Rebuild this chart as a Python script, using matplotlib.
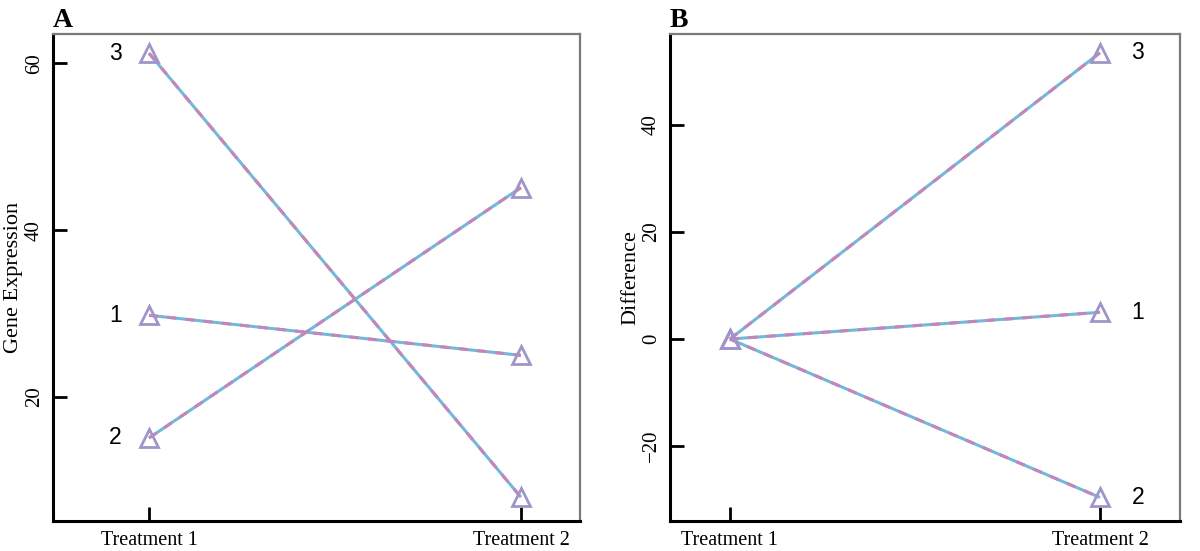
import matplotlib.pyplot as plt

# panel A: gene expression per treatment
treatments = ['Treatment 1', 'Treatment 2']
genes = ['1', '2', '3']
expr_t1 = [29.8, 15.1, 61.2]
expr_t2 = [25.0, 45.1, 8.0]

# panel B: difference from treatment 1
diff_t1 = [0, 0, 0]
diff_t2 = [5.0, -29.6, 53.5]

blue = '#72b8d8'
pink = '#c884b8'
tri = '#a095c8'
serif = ['Liberation Serif', 'DejaVu Serif']
sans = ['Liberation Sans', 'DejaVu Sans']

fig = plt.figure(figsize=(12, 5.51), dpi=100)
axA = fig.add_axes([0.0442, 0.0544, 0.4392, 0.8839])
axB = fig.add_axes([0.5583, 0.0544, 0.4250, 0.8839])


def draw_pair(ax, y1, y2):
    for a, b in zip(y1, y2):
        ax.plot([1, 2], [a, b], color=blue, lw=2.2, solid_capstyle='butt', zorder=2)
        ax.plot([1, 2], [a, b], color=pink, lw=2.2, dashes=(3, 3), zorder=3)
        ax.plot([1, 2], [a, b], ls='none', marker='^', ms=13, mfc='none',
                mec=tri, mew=2, zorder=4)


def style(ax, ylabel, title, labx):
    for s in ['left', 'bottom']:
        ax.spines[s].set_linewidth(2.2)
        ax.spines[s].set_color('black')
    for s in ['top', 'right']:
        ax.spines[s].set_linewidth(1.6)
        ax.spines[s].set_color('#7a7a7a')
    ax.set_xticks([1, 2])
    ax.set_xticklabels(treatments, fontfamily=serif, fontsize=14.5)
    ax.tick_params(direction='in', length=10, width=2)
    ax.tick_params(axis='x', pad=7)
    ax.tick_params(axis='y', labelrotation=90, pad=6.5)
    for lab in ax.get_yticklabels():
        lab.set_fontfamily(serif)
        lab.set_fontsize(15)
        lab.set_va('center')
    ax.set_ylabel(ylabel, fontfamily=serif, fontsize=16)
    ax.yaxis.set_label_coords(labx, 0.5)
    ax.text(0, 1.014, title, transform=ax.transAxes, fontfamily=serif,
            fontweight='bold', fontsize=20, ha='left', va='baseline')


draw_pair(axA, expr_t1, expr_t2)
for g, v in zip(genes, expr_t1):
    axA.text(0.91, v, g, fontfamily=sans, fontsize=16.5, ha='center', va='center')
axA.set_xlim(0.742, 2.159)
axA.set_ylim(5.15, 63.5)
axA.set_yticks([20, 40, 60])
style(axA, 'Gene Expression', 'A', -0.057)

draw_pair(axB, diff_t1, diff_t2)
for g, v in zip(genes, diff_t2):
    axB.text(2.102, v, g, fontfamily=sans, fontsize=16.5, ha='center', va='center')
axB.set_xlim(0.838, 2.216)
axB.set_ylim(-34.0, 57.0)
axB.set_yticks([-20, 0, 20, 40])
axB.set_yticklabels(['\u221220', '0', '20', '40'])
style(axB, 'Difference', 'B', -0.058)

fig.savefig('out.png', dpi=100)
